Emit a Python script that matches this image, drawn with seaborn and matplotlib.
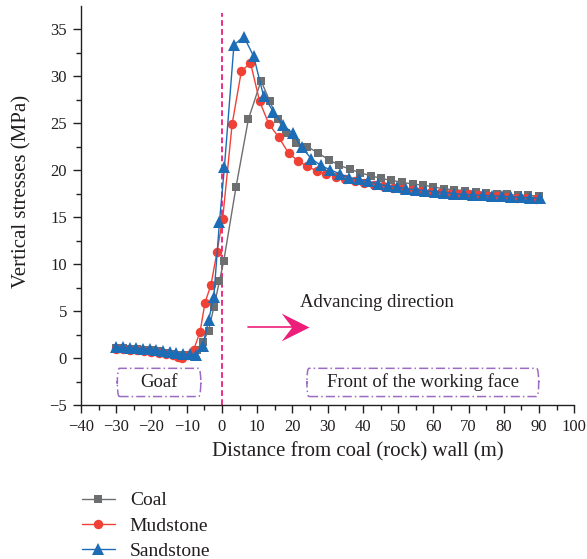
import numpy as np
import pandas as pd
import matplotlib
matplotlib.use("Agg")
import matplotlib.pyplot as plt
from matplotlib.patches import FancyBboxPatch
from matplotlib.path import Path
import seaborn as sns

# Vertical stress along the distance from the coal (rock) wall
coal_x = [-30, -28, -26, -24, -22, -20, -18, -16, -14, -12, -10, -8.5, -7.0, -5.4, -3.8,
          -2.3, -0.7, 0.5, 4.0, 7.5, 11.1, 13.6, 15.8, 18.3, 21.1, 24.2, 27.3, 30.3, 33.3,
          36.3, 39.2, 42.2, 45.2, 48.1, 51.1, 54.1, 57.0, 60.0, 63.0, 66.0, 69.0, 72.0,
          75.0, 78.0, 81.0, 84.0, 87.0, 90.0]
coal_y = [1.1, 1.05, 1.0, 0.95, 0.85, 0.8, 0.7, 0.55, 0.45, 0.35, 0.3, 0.35, 0.9, 1.7, 2.9,
          5.4, 8.2, 10.3, 18.2, 25.4, 29.5, 27.3, 25.4, 23.9, 22.9, 22.5, 21.8, 21.1, 20.5,
          20.1, 19.7, 19.4, 19.1, 18.9, 18.7, 18.5, 18.4, 18.2, 18.0, 17.9, 17.8, 17.7,
          17.6, 17.5, 17.4, 17.3, 17.3, 17.2]

mud_x = [-30, -28, -26, -24, -22, -20, -18, -16, -14, -12.6, -11.2, -9.6, -8.0, -6.2, -4.8,
         -3.1, -1.4, 0.2, 2.9, 5.5, 8.1, 10.7, 13.3, 16.1, 18.9, 21.5, 24.2, 26.9, 29.6,
         32.3, 35.0, 37.7, 40.4, 43.1, 45.8, 48.5, 51.2, 53.9, 56.6, 59.3, 62.0, 64.7,
         67.4, 70.1, 72.8, 75.5, 78.2, 80.9, 83.6, 86.3, 89.0]
mud_y = [1.0, 0.95, 0.9, 0.8, 0.75, 0.65, 0.55, 0.45, 0.3, 0.15, 0.05, 0.3, 0.9, 2.8, 5.9,
         7.8, 11.3, 14.8, 24.9, 30.5, 31.4, 27.3, 24.9, 23.5, 21.8, 21.0, 20.4, 19.9, 19.6,
         19.3, 19.0, 18.8, 18.6, 18.4, 18.3, 18.1, 18.0, 17.9, 17.8, 17.7, 17.6, 17.5,
         17.45, 17.4, 17.3, 17.25, 17.2, 17.1, 17.05, 17.0, 16.9]

sand_x = [-30, -28.1, -26.2, -24.3, -22.4, -20.5, -18.6, -16.7, -14.8, -12.9, -11.0, -9.2,
          -7.3, -5.5, -3.8, -2.3, -0.7, 0.7, 3.4, 6.2, 9.0, 11.8, 14.6, 17.3, 20.1, 22.6,
          25.4, 28.0, 30.8, 33.5, 36.1, 38.9, 41.5, 44.3, 47.0, 49.6, 52.3, 55.0, 57.7,
          60.4, 63.1, 65.8, 68.6, 71.3, 74.0, 76.7, 79.4, 82.1, 84.8, 87.5, 90.3]
sand_y = [1.2, 1.15, 1.1, 1.05, 1.0, 0.95, 0.85, 0.75, 0.65, 0.55, 0.45, 0.4, 0.3, 1.3, 4.0,
          6.5, 14.5, 20.3, 33.3, 34.2, 32.1, 27.9, 26.2, 24.8, 23.9, 22.4, 21.2, 20.5, 20.0,
          19.6, 19.2, 19.0, 18.8, 18.5, 18.3, 18.2, 18.0, 17.9, 17.8, 17.7, 17.6, 17.5,
          17.4, 17.35, 17.3, 17.25, 17.2, 17.15, 17.1, 17.05, 17.0]

series_names = ["Coal", "Mudstone", "Sandstone"]
x_ticks = list(range(-40, 101, 10))
y_ticks = list(range(-5, 36, 5))

df = pd.concat([
    pd.DataFrame({"x": coal_x, "y": coal_y, "rock": "Coal"}),
    pd.DataFrame({"x": mud_x, "y": mud_y, "rock": "Mudstone"}),
    pd.DataFrame({"x": sand_x, "y": sand_y, "rock": "Sandstone"}),
], ignore_index=True)

sns.set_style("ticks")
plt.rcParams["font.family"] = ["Liberation Serif", "DejaVu Serif"]
plt.rcParams["axes.unicode_minus"] = True
ink = "#231f20"

fig = plt.figure(figsize=(5.87, 5.59), dpi=100)
ax = fig.add_axes([81 / 587, 1 - 405 / 559, (574.3 - 81) / 587, (405 - 6) / 559])

palette = {"Coal": "#6d6e70", "Mudstone": "#ef4136", "Sandstone": "#1c6cb6"}
markers = {"Coal": "s", "Mudstone": "o", "Sandstone": "^"}
sizes = {"Coal": 6.0, "Mudstone": 6.8, "Sandstone": 8.4}

for name in series_names:
    sub = df[df["rock"] == name]
    sns.lineplot(data=sub, x="x", y="y", ax=ax, color=palette[name], marker=markers[name],
                 markersize=sizes[name], markeredgewidth=0, linewidth=1.0,
                 sort=False, estimator=None, label=name, legend=False)

ax.set_xlim(-40, 100)
ax.set_ylim(-5, 37.45)
ax.set_xticks(x_ticks)
ax.set_yticks(y_ticks)
ax.set_xticks(np.arange(-35, 100, 10), minor=True)
ax.set_yticks(np.arange(-2.5, 37, 5), minor=True)
ax.tick_params(which="major", direction="out", length=6, width=1.0, labelsize=12,
               colors=ink, pad=4)
ax.tick_params(which="minor", direction="out", length=3.5, width=1.0, colors=ink)
for side in ("top", "right"):
    ax.spines[side].set_visible(False)
for side in ("left", "bottom"):
    ax.spines[side].set_linewidth(1.0)
    ax.spines[side].set_color(ink)

ax.set_xlabel("Distance from coal (rock) wall (m)", fontsize=15, color=ink)
ax.set_ylabel("Vertical stresses (MPa)", fontsize=15, color=ink)
ax.xaxis.set_label_coords((358 - 81) / (574.3 - 81), -0.092)
ax.yaxis.set_label_coords(-0.100, 0.535)

# Working-face position
ax.plot([0, 0], [-5, 36.7], color="#ec1e79", linestyle=(0, (3.2, 1.8)), linewidth=1.3,
        zorder=1)

# Advancing direction arrow
ax.plot([7.5, 22.5], [3.33, 3.33], color="#ec1e79", linewidth=1.2)
head = Path([(0, 0), (-1.0, 0.5), (-0.62, 0), (-1.0, -0.5), (0, 0)],
            [Path.MOVETO, Path.LINETO, Path.LINETO, Path.LINETO, Path.CLOSEPOLY])
ax.plot([24.6], [3.33], marker=head, markersize=40, color="#ec1e79", markeredgewidth=0)
ax.text(22.2, 5.93, "Advancing direction", fontsize=13.5, color=ink, va="center", ha="left")

# Region boxes
box_style = dict(boxstyle="round,pad=0,rounding_size=0.6", fill=False,
                 edgecolor="#9a6cc2", linewidth=1.1, linestyle=(0, (6, 2, 1, 2)))
ax.add_patch(FancyBboxPatch((-29.7, -4.1), 23.7, 3.0, transform=ax.transData,
                            mutation_aspect=1 / 0.37, **box_style))
ax.add_patch(FancyBboxPatch((24.1, -4.1), 65.8, 3.0, transform=ax.transData,
                            mutation_aspect=1 / 0.37, **box_style))
ax.text(-17.8, -2.6, "Goaf", fontsize=13.5, ha="center", va="center", color=ink)
ax.text(57.0, -2.6, "Front of the working face", fontsize=13.5, ha="center", va="center",
        color=ink)

handles, labels = ax.get_legend_handles_labels()
fig.legend(handles, labels, loc="upper left", bbox_to_anchor=(74 / 587, 1 - 484 / 559),
           frameon=False, fontsize=14, handlelength=1.7, handletextpad=0.77,
           labelspacing=0.4, labelcolor=ink, borderaxespad=0)

fig.savefig("out.png", dpi=100)
